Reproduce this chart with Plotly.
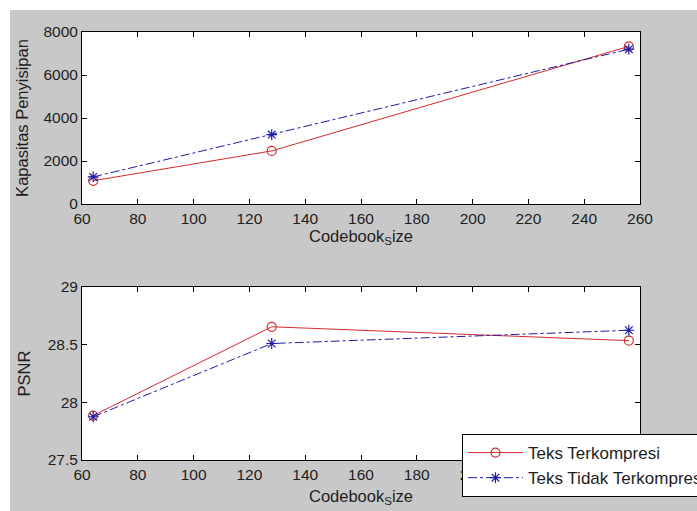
import plotly.graph_objects as go
from plotly.subplots import make_subplots

codebook_size = [64, 128, 256]
kapasitas_terkompresi = [1080, 2470, 7330]
kapasitas_tidak = [1260, 3230, 7200]
psnr_terkompresi = [27.885, 28.655, 28.535]
psnr_tidak = [27.875, 28.51, 28.625]
names = ["Teks Terkompresi", "Teks Tidak Terkompresi"]

W, H = 697, 511
L, R, T, B = 82, 640, 32, 460
pw, ph = R - L, B - T

def px(x):
    return (x - L) / pw

def py(y):
    return (B - y) / ph

red = "#d42a2a"
blue = "#1c1ca8"
txt = "#1e1e1e"
font = "Liberation Sans, Arial, sans-serif"
tick_size = 15.5
title_size = 16.5

fig = make_subplots(rows=2, cols=1)
fig.update_layout(
    yaxis=dict(domain=[py(204), 1.0]),
    yaxis2=dict(domain=[0.0, py(287)]),
)

series = [
    (kapasitas_terkompresi, psnr_terkompresi, names[0], red, "solid", "circle-open", 9),
    (kapasitas_tidak, psnr_tidak, names[1], blue, "dashdot", "asterisk-open", 9),
]
for kap, ps, nm, col, dash, sym, ms in series:
    fig.add_trace(go.Scatter(x=codebook_size, y=kap, mode="lines+markers", name=nm,
                             line=dict(color=col, width=1, dash=dash),
                             marker=dict(symbol=sym, size=ms, color=col, line=dict(color=col, width=1.2)),
                             showlegend=False), row=1, col=1)
    fig.add_trace(go.Scatter(x=codebook_size, y=ps, mode="lines+markers", name=nm,
                             line=dict(color=col, width=1, dash=dash),
                             marker=dict(symbol=sym, size=ms, color=col, line=dict(color=col, width=1.2)),
                             showlegend=True), row=2, col=1)

axis_common = dict(showgrid=False, zeroline=False, showline=True, linecolor="black", linewidth=1,
                   mirror="ticks", ticks="inside", ticklen=5, tickcolor="black",
                   tickfont=dict(size=tick_size, color=txt, family=font))
title_font = dict(size=title_size, color=txt, family=font)

fig.update_xaxes(range=[60, 260], tickvals=list(range(60, 261, 20)), **axis_common)
fig.update_xaxes(title=dict(text="Codebook<sub>S</sub>ize", font=title_font, standoff=0), row=1, col=1)
fig.update_xaxes(title=dict(text="Codebook<sub>S</sub>ize", font=title_font, standoff=8), row=2, col=1)
fig.update_yaxes(range=[0, 8000], tickvals=[0, 2000, 4000, 6000, 8000],
                 title=dict(text="Kapasitas Penyisipan", font=title_font, standoff=10),
                 row=1, col=1, **axis_common)
fig.update_yaxes(range=[27.5, 29], tickvals=[27.5, 28, 28.5, 29], ticktext=["27.5", "28", "28.5", "29"],
                 title=dict(text="PSNR", font=title_font, standoff=12),
                 row=2, col=1, **axis_common)

fig.update_layout(
    width=W, height=H,
    margin=dict(l=L, r=W - R, t=T, b=H - B, autoexpand=False),
    paper_bgcolor="#c8c8c8",
    plot_bgcolor="white",
    font=dict(family=font, size=tick_size, color=txt),
    legend=dict(x=px(462), y=py(434), xanchor="left", yanchor="top",
                bgcolor="white", bordercolor="black", borderwidth=1,
                font=dict(size=17, color=txt, family=font),
                tracegroupgap=0, itemwidth=55),
    shapes=[
        dict(type="rect", xref="paper", yref="paper", x0=px(-5), x1=px(W + 5),
             y0=py(10), y1=py(-5), fillcolor="white", line=dict(width=0), layer="below"),
        dict(type="rect", xref="paper", yref="paper", x0=px(-5), x1=px(10),
             y0=py(H + 5), y1=py(-5), fillcolor="white", line=dict(width=0), layer="below"),
    ],
)

fig.write_html("out.html")
